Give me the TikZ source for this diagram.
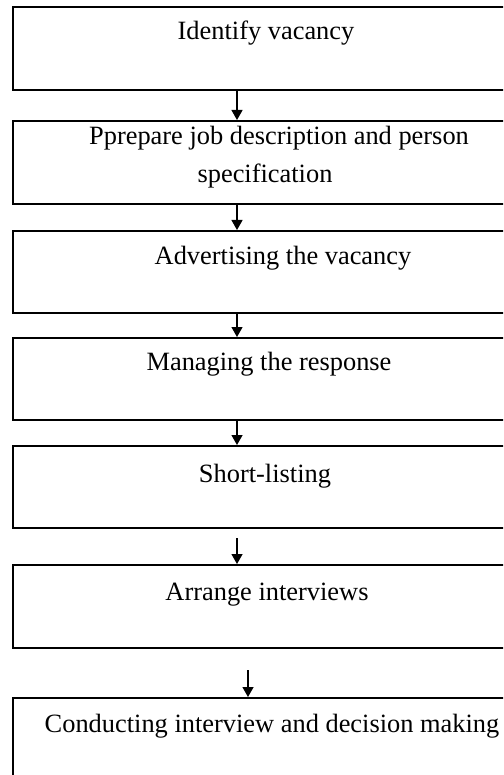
\documentclass[tikz,border=0pt]{standalone}
\usepackage{fontspec}
\setmainfont{Liberation Serif}
\usetikzlibrary{arrows.meta}
\begin{document}
\begin{tikzpicture}[x=1pt,y=-1pt,
  stepbox/.style={draw=black,line width=2pt,rectangle,minimum width=506pt,inner sep=0pt},
  lbl/.style={anchor=base,inner sep=0pt,font=\fontsize{26.4}{32}\selectfont},
  arr/.style={line width=1.3pt,-{Triangle[width=11pt,length=10pt]}}]
  \clip (0,0) rectangle (503,775);
  \fill[white] (0,0) rectangle (503,775);
  % process boxes
  \node[stepbox,minimum height=83pt] (b1) at (266,48.5) {};
  \node[stepbox,minimum height=83pt] (b2) at (266,162.5) {};
  \node[stepbox,minimum height=82pt] (b3) at (266,272) {};
  \node[stepbox,minimum height=82pt] (b4) at (266,379) {};
  \node[stepbox,minimum height=82pt] (b5) at (266,487) {};
  \node[stepbox,minimum height=83pt] (b6) at (266,606.5) {};
  \node[stepbox,minimum height=83pt] (b7) at (266,739.5) {};
  % labels
  \node[lbl] (t1) at (266,40) {Identify vacancy};
  \node[lbl] (t2a) at (279,145) {Pprepare job description and person};
  \node[lbl] (t2b) at (265,183) {specification};
  \node[lbl] (t3) at (283,265) {Advertising the vacancy};
  \node[lbl] (t4) at (269,370) {Managing the response};
  \node[lbl] (t5) at (265,482) {Short-listing};
  \node[lbl] (t6) at (267,600) {Arrange interviews};
  \node[lbl] (t7) at (272,732) {Conducting interview and decision making};
  % connectors
  \coordinate (ax) at (237,0);
  \coordinate (bx) at (248,0);
  \draw[arr] (b1.south -| ax) -- (b2.north -| ax);
  \draw[arr] (b2.south -| ax) -- (b3.north -| ax);
  \draw[arr] (b3.south -| ax) -- (b4.north -| ax);
  \draw[arr] (b4.south -| ax) -- (b5.north -| ax);
  \draw[arr,shorten <=9pt] (b5.south -| ax) -- (b6.north -| ax);
  \draw[arr,shorten <=21pt] (b6.south -| bx) -- (b7.north -| bx);
\end{tikzpicture}
\end{document}
